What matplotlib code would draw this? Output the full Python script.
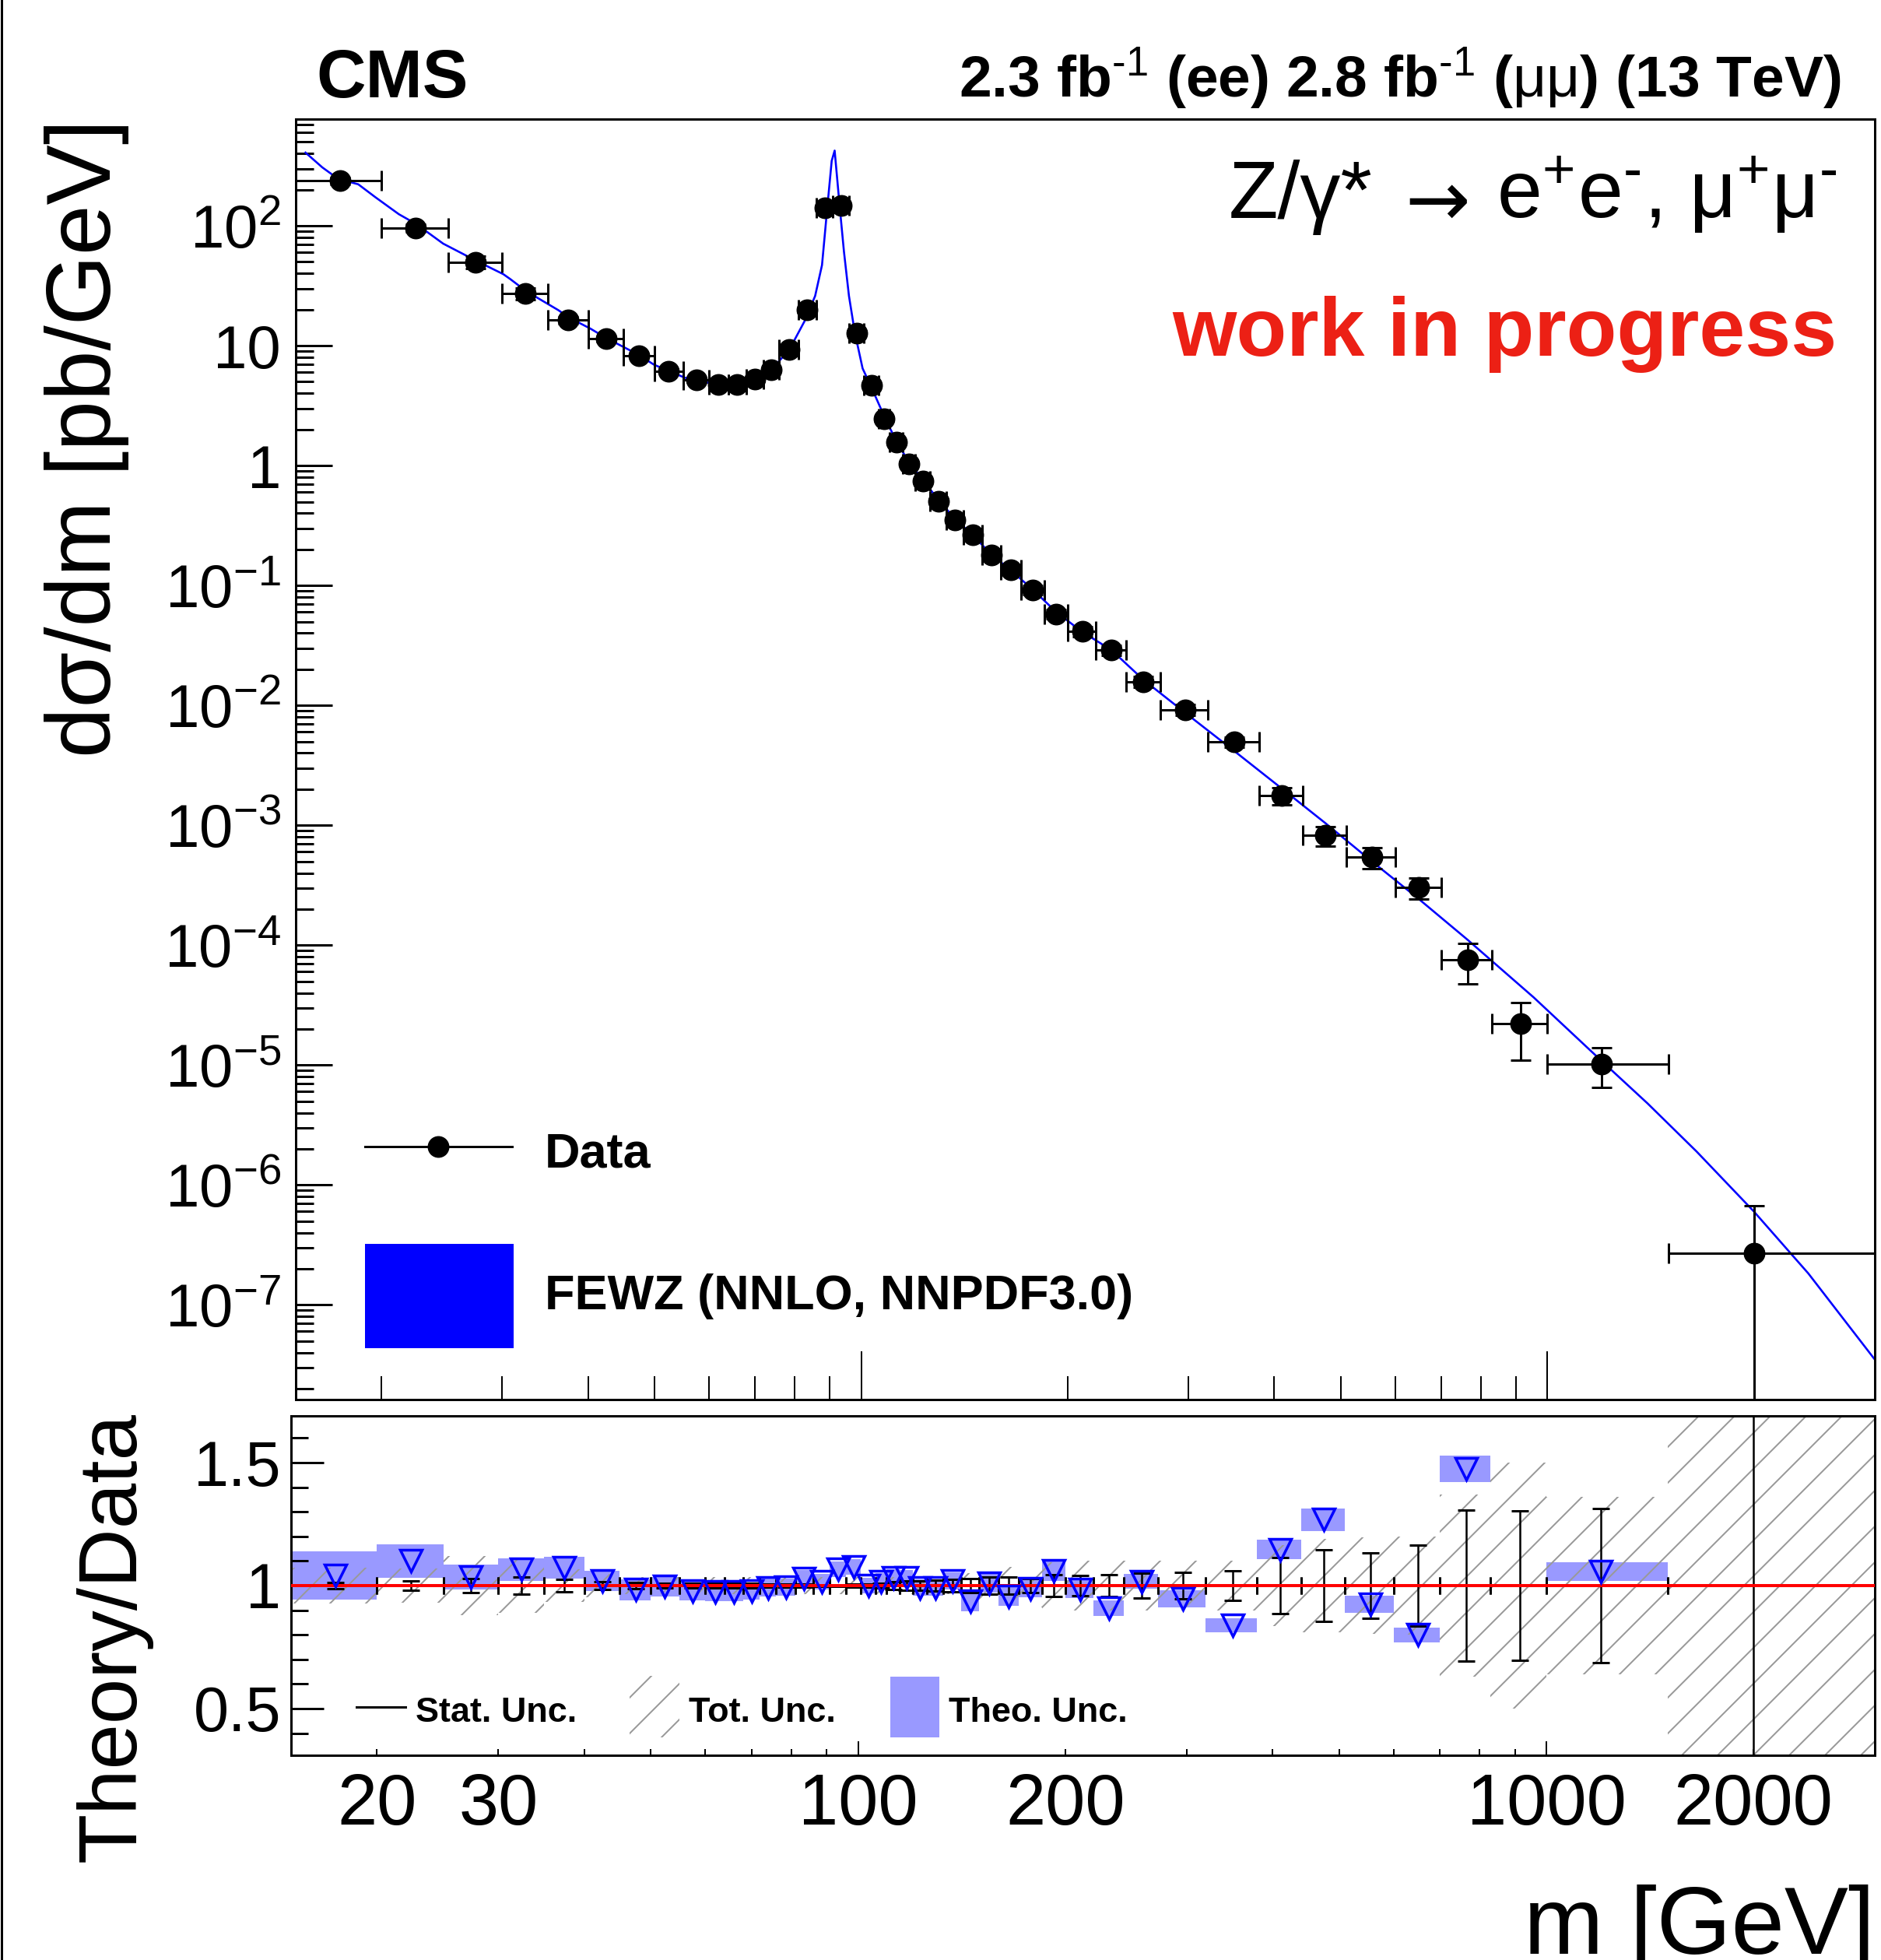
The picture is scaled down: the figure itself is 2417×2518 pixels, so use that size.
import numpy as np
import matplotlib
matplotlib.use('Agg')
import matplotlib.pyplot as plt
from matplotlib.lines import Line2D
from matplotlib.patches import Rectangle
from matplotlib.ticker import FixedLocator, NullFormatter, FuncFormatter

# ukuran gambar dalam piksel
W, H, DPI = 2417, 2518, 138
PT = 72.0 / DPI  # satu piksel dalam point

plt.rcParams['font.family'] = ['Liberation Sans', 'DejaVu Sans']
plt.rcParams['mathtext.fontset'] = 'custom'
plt.rcParams['mathtext.rm'] = 'Liberation Sans'
plt.rcParams['mathtext.it'] = 'Liberation Sans:italic'
plt.rcParams['mathtext.bf'] = 'Liberation Sans:bold'
plt.rcParams['mathtext.default'] = 'rm'
plt.rcParams['hatch.color'] = '#999999'
plt.rcParams['hatch.linewidth'] = 2 * PT

# data
edges = [15, 20, 25, 30, 35, 40, 45, 50, 55, 60, 64, 68, 72, 76, 81, 86, 91, 96, 101, 106,
         110, 115, 120, 126, 133, 141, 150, 160, 171, 185, 200, 220, 243, 273, 320, 380,
         440, 510, 600, 700, 830, 1000, 1500, 3000]
m_data = [17.4, 22.4, 27.4, 32.4, 37.4, 42.5, 47.5, 52.4, 57.5, 62,
          66, 70, 74, 78.5, 83.5, 88.5, 93.5, 98.5, 103.5, 108,
          112.5, 117.5, 123, 129.5, 137, 145.5, 155, 165.5, 178, 192.5,
          210, 231.5, 258, 296.5, 350, 410, 475, 555, 650, 765,
          915, 1200, 2000]
xs_data = [237, 96.1, 49.8, 27.1, 16.4, 11.4, 8.28, 6.14, 5.16, 4.73,
           4.73, 5.24, 6.3, 9.25, 19.8, 141.6, 147.4, 12.8, 4.67, 2.44,
           1.56, 1.04, 0.743, 0.506, 0.352, 0.264, 0.18, 0.135, 0.0916, 0.058,
           0.0415, 0.0289, 0.0158, 0.0092, 0.00495, 0.00177, 0.000824, 0.000542, 0.000303, 7.53e-5,
           2.21e-5, 1.02e-5, 2.7e-7]
tot_unc = [0.073, 0.07, 0.12, 0.11, 0.066, 0.047, 0.035, 0.035, 0.035, 0.035,
           0.035, 0.035, 0.035, 0.035, 0.035, 0.035, 0.035, 0.035, 0.035, 0.035,
           0.035, 0.035, 0.035, 0.035, 0.035, 0.05, 0.075, 0.075, 0.09, 0.095,
           0.1, 0.1, 0.1, 0.1, 0.1, 0.165, 0.19, 0.195, 0.2, 0.37,
           0.5, 0.36, 1.48]
stat_unc = [0.012, 0.018, 0.028, 0.035, 0.024, 0.017, 0.012, 0.01, 0.01, 0.01,
            0.008, 0.008, 0.007, 0.006, 0.005, 0.003, 0.003, 0.005, 0.007, 0.01,
            0.015, 0.018, 0.02, 0.022, 0.025, 0.03, 0.034, 0.036, 0.03, 0.043,
            0.042, 0.044, 0.052, 0.053, 0.06, 0.114, 0.145, 0.132, 0.166, 0.307,
            0.305, 0.313, 1.0]
ratio = [1.04, 1.10, 1.035, 1.065, 1.073, 1.019, 0.983, 0.996, 0.979, 0.974,
         0.974, 0.978, 0.992, 0.994, 1.03, 1.017, 1.066, 1.076, 0.999, 1.017,
         1.032, 1.031, 0.992, 0.992, 1.019, 0.936, 1.009, 0.957, 0.988, 1.059,
         0.985, 0.908, 1.017, 0.946, 0.838, 1.147, 1.268, 0.924, 0.80, 1.475,
         1.9, 1.057, 2.3]
theo_unc = [0.098, 0.068, 0.05, 0.047, 0.045, 0.041, 0.042, 0.04, 0.038, 0.037,
            0.037, 0.036, 0.035, 0.035, 0.034, 0.032, 0.032, 0.032, 0.032, 0.033,
            0.033, 0.033, 0.034, 0.034, 0.035, 0.04, 0.037, 0.04, 0.037, 0.04,
            0.037, 0.033, 0.03, 0.035, 0.028, 0.04, 0.045, 0.035, 0.03, 0.055,
            0.04, 0.037, 0.05]

# kurva FEWZ
m_fewz = [15.5, 16.4, 17.3, 18.5, 19.6, 21.2, 22.5, 24.6, 27.5, 30.1,
          30.8, 32.5, 36.2, 37.5, 40.3, 42.5, 47.2, 49.9, 52.6, 55.4,
          60.0, 65.9, 70.1, 74.4, 78.7, 82.8, 85.7, 87.7, 89.3, 90.6,
          91.5, 93.1, 94.4, 96.0, 97.9, 100.5, 103.2, 107.9, 112.5, 117.5,
          123, 129.5, 137, 145.5, 155, 165.5, 178, 192.5, 210, 231.5,
          258, 296.5, 350, 410, 475, 555, 650, 765, 955, 1200,
          1400, 1650, 2000, 2400, 3000]
xs_fewz = [408, 307, 246, 222, 173, 125, 103, 71, 51, 39.5,
           36, 28.5, 19.8, 17.2, 13.9, 11.6, 8.5, 6.95, 6.1, 5.4,
           4.9, 4.78, 5.18, 6.5, 9.4, 16.2, 26, 47, 145, 348,
           424, 141, 61, 26, 12.9, 6.46, 4.67, 2.63, 1.6, 1.06,
           0.76, 0.52, 0.36, 0.262, 0.18, 0.133, 0.092, 0.06, 0.041, 0.029,
           0.0163, 0.0087, 0.00415, 0.00203, 0.00104, 0.0005, 0.000242, 0.000111, 3.67e-5, 1.08e-5,
           4.78e-6, 1.9e-6, 6.0e-7, 1.83e-7, 3.5e-8]

edges = np.array(edges, dtype=float)
lo, hi = edges[:-1], edges[1:]
m = np.array(m_data)
xs = np.array(xs_data)
tot = np.array(tot_unc)
stat = np.array(stat_unc)
rat = np.array(ratio)
theo = np.array(theo_unc)

fig = plt.figure(figsize=(W / DPI, H / DPI), dpi=DPI)
ax1 = fig.add_axes([380 / W, 1 - 1798 / H, (2409 - 380) / W, (1798 - 153) / H])
ax2 = fig.add_axes([374 / W, 1 - 2255 / H, (2409 - 374) / W, (2255 - 1819) / H])

# panel atas
ax1.plot(m_fewz, xs_fewz, color='#0000ff', lw=2.6 * PT, zorder=2)
ax1.errorbar(m, xs, xerr=[m - lo, hi - m], yerr=[xs * np.minimum(tot, 1.0), xs * tot],
             fmt='o', color='k', ms=26 * PT, elinewidth=3 * PT, capsize=13 * PT,
             capthick=3 * PT, zorder=3)
ax1.set_xscale('log')
ax1.set_yscale('log')
ax1.set_xlim(15, 3000)
ax1.set_ylim(10 ** -7.79, 10 ** 2.89)

decades = [10.0 ** e for e in range(-7, 3)]
ax1.yaxis.set_major_locator(FixedLocator(decades))


def ylab(v, pos):
    e = int(round(np.log10(v)))
    if e == 1:
        return '10'
    if e == 0:
        return '1'
    return '$10^{%d}$' % e


ax1.yaxis.set_major_formatter(FuncFormatter(ylab))
ax1.yaxis.set_minor_locator(FixedLocator([k * 10.0 ** e for e in range(-8, 3) for k in range(2, 10)]))
ax1.yaxis.set_minor_formatter(NullFormatter())

xmin_ticks = [20, 30, 40, 50, 60, 70, 80, 90, 200, 300, 400, 500, 600, 700, 800, 900, 2000]
for ax in (ax1, ax2):
    ax.xaxis.set_major_locator(FixedLocator([100, 1000]))
    ax.xaxis.set_minor_locator(FixedLocator(xmin_ticks))
    for s in ax.spines.values():
        s.set_linewidth(3 * PT)
ax1.xaxis.set_major_formatter(NullFormatter())
ax1.xaxis.set_minor_formatter(NullFormatter())

ax1.tick_params(axis='y', which='major', direction='in', length=47 * PT, width=3 * PT,
                labelsize=78 * PT, pad=19 * PT)
ax1.tick_params(axis='y', which='minor', direction='in', length=23 * PT, width=3 * PT)
ax1.tick_params(axis='x', which='major', direction='in', length=62 * PT, width=2 * PT)
ax1.tick_params(axis='x', which='minor', direction='in', length=30 * PT, width=2 * PT)

# panel rasio
ax2.bar(lo, 2 * theo, bottom=rat - theo, width=hi - lo, align='edge',
        color='#9999ff', lw=0, zorder=1)
ax2.fill_between(edges, np.append(1 - tot, 1 - tot[-1]), np.append(1 + tot, 1 + tot[-1]),
                 step='post', facecolor='none', edgecolor='#999999', hatch='/', lw=0, zorder=2)
ax2.errorbar(m, np.ones_like(m), xerr=[m - lo, hi - m], yerr=stat, fmt='none', ecolor='k',
             elinewidth=2.5 * PT, capsize=11 * PT, capthick=3 * PT, zorder=3)
ax2.axhline(1.0, color='#ff0000', lw=4 * PT, zorder=4)
ax2.plot(m, rat, 'v', ms=28 * PT, mfc='none', mec='#0000ff', mew=3.5 * PT, zorder=5)
ax2.set_xscale('log')
ax2.set_xlim(15, 3000)
ax2.set_ylim(0.31, 1.69)
ax2.xaxis.set_major_locator(FixedLocator([100, 1000]))
ax2.xaxis.set_minor_locator(FixedLocator(xmin_ticks))
ax2.xaxis.set_major_formatter(FuncFormatter(lambda v, p: '%d' % v))
ax2.xaxis.set_minor_formatter(FuncFormatter(lambda v, p: '%d' % v if v in (20, 30, 200, 2000) else ''))
ax2.yaxis.set_major_locator(FixedLocator([0.5, 1.0, 1.5]))
ax2.yaxis.set_major_formatter(FuncFormatter(lambda v, p: '%g' % v))
ax2.yaxis.set_minor_locator(FixedLocator([0.4, 0.6, 0.7, 0.8, 0.9, 1.1, 1.2, 1.3, 1.4, 1.6]))
ax2.tick_params(axis='y', which='major', direction='in', length=42 * PT, width=3 * PT,
                labelsize=81 * PT, pad=13 * PT)
ax2.tick_params(axis='y', which='minor', direction='in', length=22 * PT, width=3 * PT)
ax2.tick_params(axis='x', which='both', direction='in', width=2 * PT, labelsize=92 * PT, pad=22 * PT)
ax2.tick_params(axis='x', which='major', length=18 * PT)
ax2.tick_params(axis='x', which='minor', length=8 * PT)


def fx(px):
    return px / W


def fy(py):
    return 1 - py / H


# teks
fig.text(fx(406), fy(125), 'CMS', fontsize=88 * PT, fontweight='bold', va='baseline')
fig.text(fx(2366), fy(125), r'2.3 fb$^{\text{-1}}$ (ee) 2.8 fb$^{\text{-1}}$ ($\mu\mu$) (13 TeV)',
         fontsize=75 * PT, fontweight='bold', ha='right', va='baseline')

# proses: tiga bagian supaya panahnya besar, posisinya dihitung dari bagian kanan
renderer = fig.canvas.get_renderer()
t_right = fig.text(fx(2361), fy(280), r'e$^{+}$e$^{\text{-}}$, μ$^{+}$μ$^{\text{-}}$',
                   fontsize=104 * PT, ha='right', va='baseline')
x_e = t_right.get_window_extent(renderer).x0  # piksel dari kiri
fig.text((x_e - 32 - 44) / W, fy(262), '→', fontsize=100 * PT, family='DejaVu Sans',
         ha='center', va='center')
fig.text((x_e - 32 - 88 - 40) / W, fy(280), 'Z/γ*', fontsize=104 * PT, ha='right', va='baseline')

fig.text(fx(2361), fy(457), 'work in progress', fontsize=106 * PT, fontweight='bold',
         color='#ec2015', ha='right', va='baseline')
fig.text(fx(112), fy(153), 'dσ/dm [pb/GeV]', rotation=90, fontsize=116 * PT, ha='center', va='top')
fig.text(fx(146), fy(1814), 'Theory/Data', rotation=90, fontsize=105 * PT, ha='center', va='top')
fig.text(fx(2409), fy(2510), 'm [GeV]', fontsize=123 * PT, ha='right', va='baseline')

# legenda panel atas
fig.add_artist(Line2D([fx(469), fx(658)], [fy(1473)] * 2, color='k', lw=3 * PT))
fig.add_artist(Line2D([fx(563)], [fy(1473)], marker='o', color='k', ms=26 * PT))
fig.text(fx(700), fy(1500), 'Data', fontsize=63 * PT, fontweight='bold', va='baseline')
fig.add_artist(Rectangle((fx(469), fy(1732)), fx(660) - fx(469), (1732 - 1598) / H,
                         facecolor='#0000ff', edgecolor='none', transform=fig.transFigure))
fig.text(fx(700), fy(1682), 'FEWZ (NNLO, NNPDF3.0)', fontsize=63 * PT, fontweight='bold', va='baseline')

# legenda panel rasio
fig.add_artist(Line2D([fx(458), fx(521)], [fy(2193)] * 2, color='k', lw=3 * PT))
fig.text(fx(534), fy(2212), 'Stat. Unc.', fontsize=45 * PT, fontweight='bold', va='baseline')
fig.add_artist(Rectangle((fx(809), fy(2232)), fx(873) - fx(809), (2232 - 2153) / H,
                         facecolor='none', edgecolor='#999999', hatch='/', lw=0,
                         transform=fig.transFigure))
fig.text(fx(885), fy(2212), 'Tot. Unc.', fontsize=45 * PT, fontweight='bold', va='baseline')
fig.add_artist(Rectangle((fx(1144), fy(2232)), fx(1207) - fx(1144), (2232 - 2154) / H,
                         facecolor='#9999ff', edgecolor='none', transform=fig.transFigure))
fig.text(fx(1219), fy(2212), 'Theo. Unc.', fontsize=45 * PT, fontweight='bold', va='baseline')

# garis tepi kiri
fig.add_artist(Line2D([fx(1.5)] * 2, [0, 1], color='k', lw=3 * PT))

fig.savefig('out.png', dpi=DPI)
